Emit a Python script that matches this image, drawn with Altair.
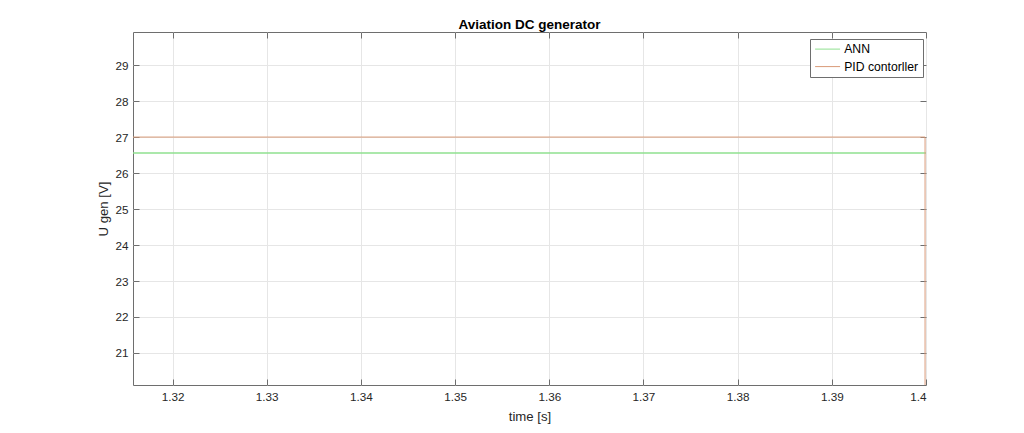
import altair as alt
import pandas as pd

# data
ann_time = [1.3158, 1.4]
ann_volt = [26.56, 26.56]
pid_time = [1.3158, 1.3999, 1.3999]
pid_volt = [27.0, 27.0, 19.0]
x_ticks = [1.32, 1.33, 1.34, 1.35, 1.36, 1.37, 1.38, 1.39, 1.4]
y_ticks = [21, 22, 23, 24, 25, 26, 27, 28, 29]
series_names = ["ANN", "PID contorller"]
series_colors = ["#8fe08f", "#d99a78"]

df = pd.concat([
    pd.DataFrame({"t": ann_time, "u": ann_volt, "series": "ANN", "o": range(len(ann_time))}),
    pd.DataFrame({"t": pid_time, "u": pid_volt, "series": "PID contorller", "o": range(len(pid_time))}),
])

FONT = "Liberation Sans"
TXT = "#262626"
GRID = "#e6e6e6"
BOX = "#6e6e6e"
xdom = [1.3158, 1.4]
ydom = [20.11, 29.92]

color = alt.Color(
    "series:N",
    scale=alt.Scale(domain=series_names, range=series_colors),
    title=None,
    legend=alt.Legend(
        orient="none", legendX=677, legendY=7,
        symbolType="M-1,0H4", symbolSize=100, symbolStrokeWidth=1,
        labelFont=FONT, labelFontSize=12.2, labelColor="black",
        strokeColor=BOX, fillColor="white", padding=4, rowPadding=4.5,
        labelOffset=18, cornerRadius=0,
    ),
)

xa_bottom = alt.Axis(
    orient="bottom", values=x_ticks, format="~g", offset=-6, tickSize=6,
    tickColor=BOX, domain=False, grid=True, gridColor=GRID,
    labelFont=FONT, labelFontSize=11.7, labelColor=TXT, labelPadding=6,
    title="time [s]", titleFont=FONT, titleFontSize=13.2, titleFontWeight="normal",
    titleColor=TXT, titlePadding=8,
)
ya_left = alt.Axis(
    orient="left", values=y_ticks, offset=-6, tickSize=6,
    tickColor=BOX, domain=False, grid=True, gridColor=GRID,
    labelFont=FONT, labelFontSize=11.7, labelColor=TXT, labelPadding=5,
    title="U gen [V]", titleFont=FONT, titleFontSize=13.2, titleFontWeight="normal",
    titleColor=TXT, titlePadding=4,
)
xa_top = alt.Axis(orient="top", values=x_ticks, offset=-6, tickSize=6, tickColor=BOX,
                  domain=False, grid=False, labels=False, title="")
ya_right = alt.Axis(orient="right", values=y_ticks, offset=-6, tickSize=6, tickColor=BOX,
                    domain=False, grid=False, labels=False, title="")

base = alt.Chart(df)

ann = base.transform_filter(alt.datum.series == "ANN").mark_line(strokeWidth=1.5, clip=True).encode(
    x=alt.X("t:Q", scale=alt.Scale(domain=xdom, nice=False, zero=False), axis=xa_bottom),
    y=alt.Y("u:Q", scale=alt.Scale(domain=ydom, nice=False, zero=False), axis=ya_left),
    color=color,
    order="o:Q",
)
pid = base.transform_filter(alt.datum.series == "PID contorller").mark_line(strokeWidth=1, clip=True).encode(
    x=alt.X("t:Q", scale=alt.Scale(domain=xdom, nice=False, zero=False), axis=xa_top),
    y=alt.Y("u:Q", scale=alt.Scale(domain=ydom, nice=False, zero=False), axis=ya_right),
    color=color,
    order="o:Q",
)

chart = alt.layer(ann, pid).resolve_axis(x="independent", y="independent").properties(
    width=793, height=353,
    autosize=alt.AutoSizeParams(type="none"),
    padding={"left": 125, "top": 24, "right": 90, "bottom": 40},
    title=alt.TitleParams("Aviation DC generator", font=FONT, fontSize=13.5, fontWeight="bold",
                          color="black", anchor="middle", offset=1, dy=1),
    background="white",
).configure_view(stroke=BOX, strokeWidth=1)

chart.save("out.html", embed_options={"renderer": "svg", "actions": False})
